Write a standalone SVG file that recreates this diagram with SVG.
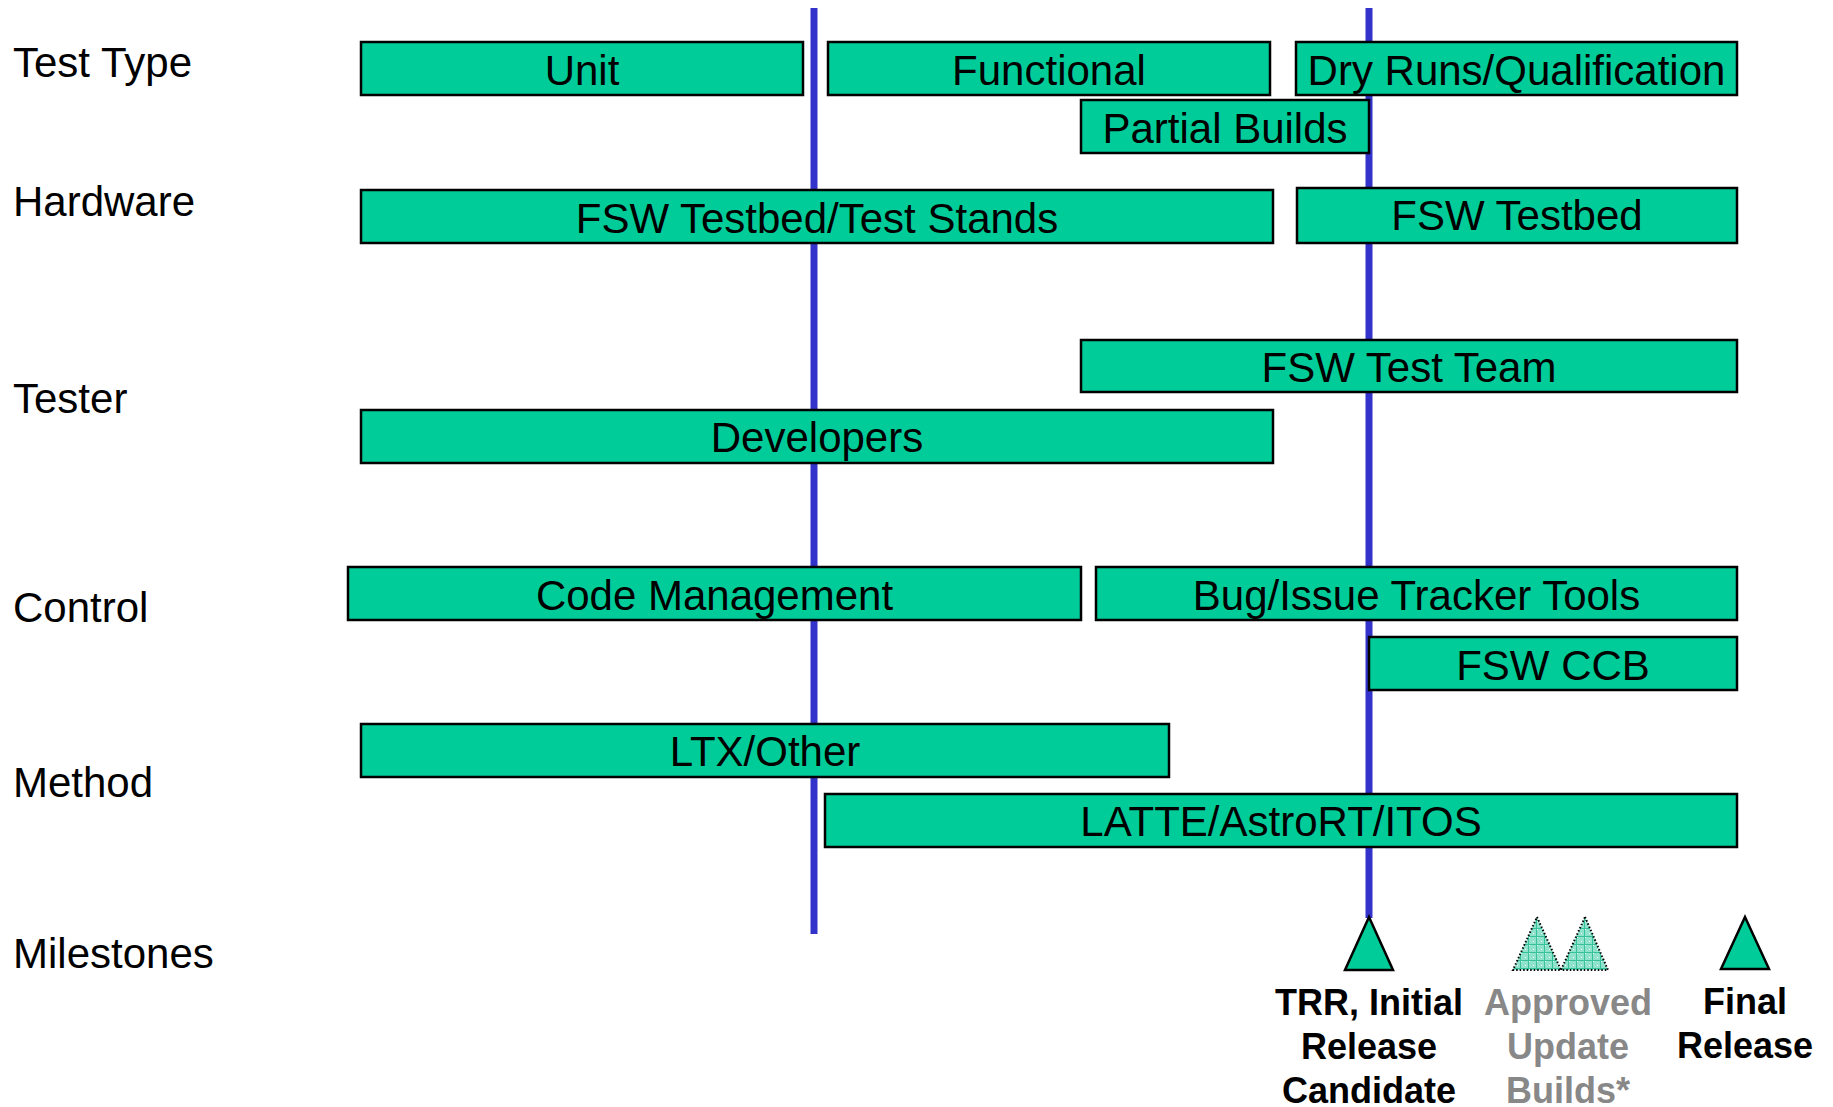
<svg xmlns="http://www.w3.org/2000/svg" width="1833" height="1107" viewBox="0 0 1833 1107">
<style>
  text { font-family: "Liberation Sans", Arial, sans-serif; }
  .lbl { font-size: 42px; fill: #000; }
  .bar { fill: #00CC99; stroke: #000; stroke-width: 2.5; }
  .bt { font-size: 42px; fill: #000; text-anchor: middle; }
  .vline { stroke: #3333CC; stroke-width: 7; fill: none; }
  .ms { fill: #00CC99; stroke: #000; stroke-width: 2.5; stroke-linejoin: miter; }
  .msd { fill: url(#grid); stroke: #000; stroke-width: 2; stroke-dasharray: 1.5 2; }
  .mt { font-size: 36px; font-weight: bold; text-anchor: middle; fill: #000; }
  .mg { fill: #888888; }
</style>
<defs>
  <pattern id="grid" width="8" height="8" patternUnits="userSpaceOnUse">
    <rect width="8" height="8" fill="#8fe3cc"/>
    <rect x="1" y="1" width="1" height="1" fill="#ffffff"/>
    <rect x="5" y="5" width="1" height="1" fill="#ffffff"/>
    <path d="M0 0.5H8M0.5 0V8" stroke="#33c29a" stroke-width="1"/>
  </pattern>
</defs>
<rect width="1833" height="1107" fill="#fff"/>

<g id="row-labels">
  <text class="lbl" x="13" y="77">Test Type</text>
  <text class="lbl" x="13" y="216">Hardware</text>
  <text class="lbl" x="13" y="413">Tester</text>
  <text class="lbl" x="13" y="622">Control</text>
  <text class="lbl" x="13" y="797">Method</text>
  <text class="lbl" x="13" y="968">Milestones</text>
</g>

<g id="connectors">
  <line class="vline" x1="814" y1="8" x2="814" y2="934"/>
  <line class="vline" x1="1369" y1="8" x2="1369" y2="918"/>
</g>

<g id="unit"><rect class="bar" x="361" y="42" width="442" height="53"/><text class="bt" x="582" y="85">Unit</text></g>
<g id="functional"><rect class="bar" x="828" y="42" width="442" height="53"/><text class="bt" x="1049" y="85">Functional</text></g>
<g id="dry-runs"><rect class="bar" x="1296" y="42" width="441" height="53"/><text class="bt" x="1516.5" y="85">Dry Runs/Qualification</text></g>
<g id="partial-builds"><rect class="bar" x="1081" y="100" width="288" height="53"/><text class="bt" x="1225" y="143">Partial Builds</text></g>
<g id="fsw-testbed-stands"><rect class="bar" x="361" y="190" width="912" height="53"/><text class="bt" x="817" y="233">FSW Testbed/Test Stands</text></g>
<g id="fsw-testbed"><rect class="bar" x="1297" y="188" width="440" height="55"/><text class="bt" x="1517" y="230">FSW Testbed</text></g>
<g id="fsw-test-team"><rect class="bar" x="1081" y="340" width="656" height="52"/><text class="bt" x="1409" y="382">FSW Test Team</text></g>
<g id="developers"><rect class="bar" x="361" y="410" width="912" height="53"/><text class="bt" x="817" y="452">Developers</text></g>
<g id="code-management"><rect class="bar" x="348" y="567" width="733" height="53"/><text class="bt" x="714.5" y="610">Code Management</text></g>
<g id="bug-tracker"><rect class="bar" x="1096" y="567" width="641" height="53"/><text class="bt" x="1416.5" y="610">Bug/Issue Tracker Tools</text></g>
<g id="fsw-ccb"><rect class="bar" x="1369" y="637" width="368" height="53"/><text class="bt" x="1553" y="680">FSW CCB</text></g>
<g id="ltx-other"><rect class="bar" x="361" y="724" width="808" height="53"/><text class="bt" x="765" y="766">LTX/Other</text></g>
<g id="latte"><rect class="bar" x="825" y="794" width="912" height="53"/><text class="bt" x="1281" y="836">LATTE/AstroRT/ITOS</text></g>

<g id="ms-trr">
  <polygon class="ms" points="1369,917 1393,970 1345,970"/>
  <text class="mt" x="1369" y="1015">TRR, Initial</text>
  <text class="mt" x="1369" y="1059">Release</text>
  <text class="mt" x="1369" y="1103">Candidate</text>
</g>
<g id="ms-approved">
  <polygon class="msd" points="1537,917 1561,970 1513,970"/>
  <polygon class="msd" points="1585,917 1608,970 1561,970"/>
  <text class="mt mg" x="1568" y="1015">Approved</text>
  <text class="mt mg" x="1568" y="1059">Update</text>
  <text class="mt mg" x="1568" y="1103">Builds*</text>
</g>
<g id="ms-final">
  <polygon class="ms" points="1745,917 1769,969 1721,969"/>
  <text class="mt" x="1745" y="1014">Final</text>
  <text class="mt" x="1745" y="1058">Release</text>
</g>
</svg>
